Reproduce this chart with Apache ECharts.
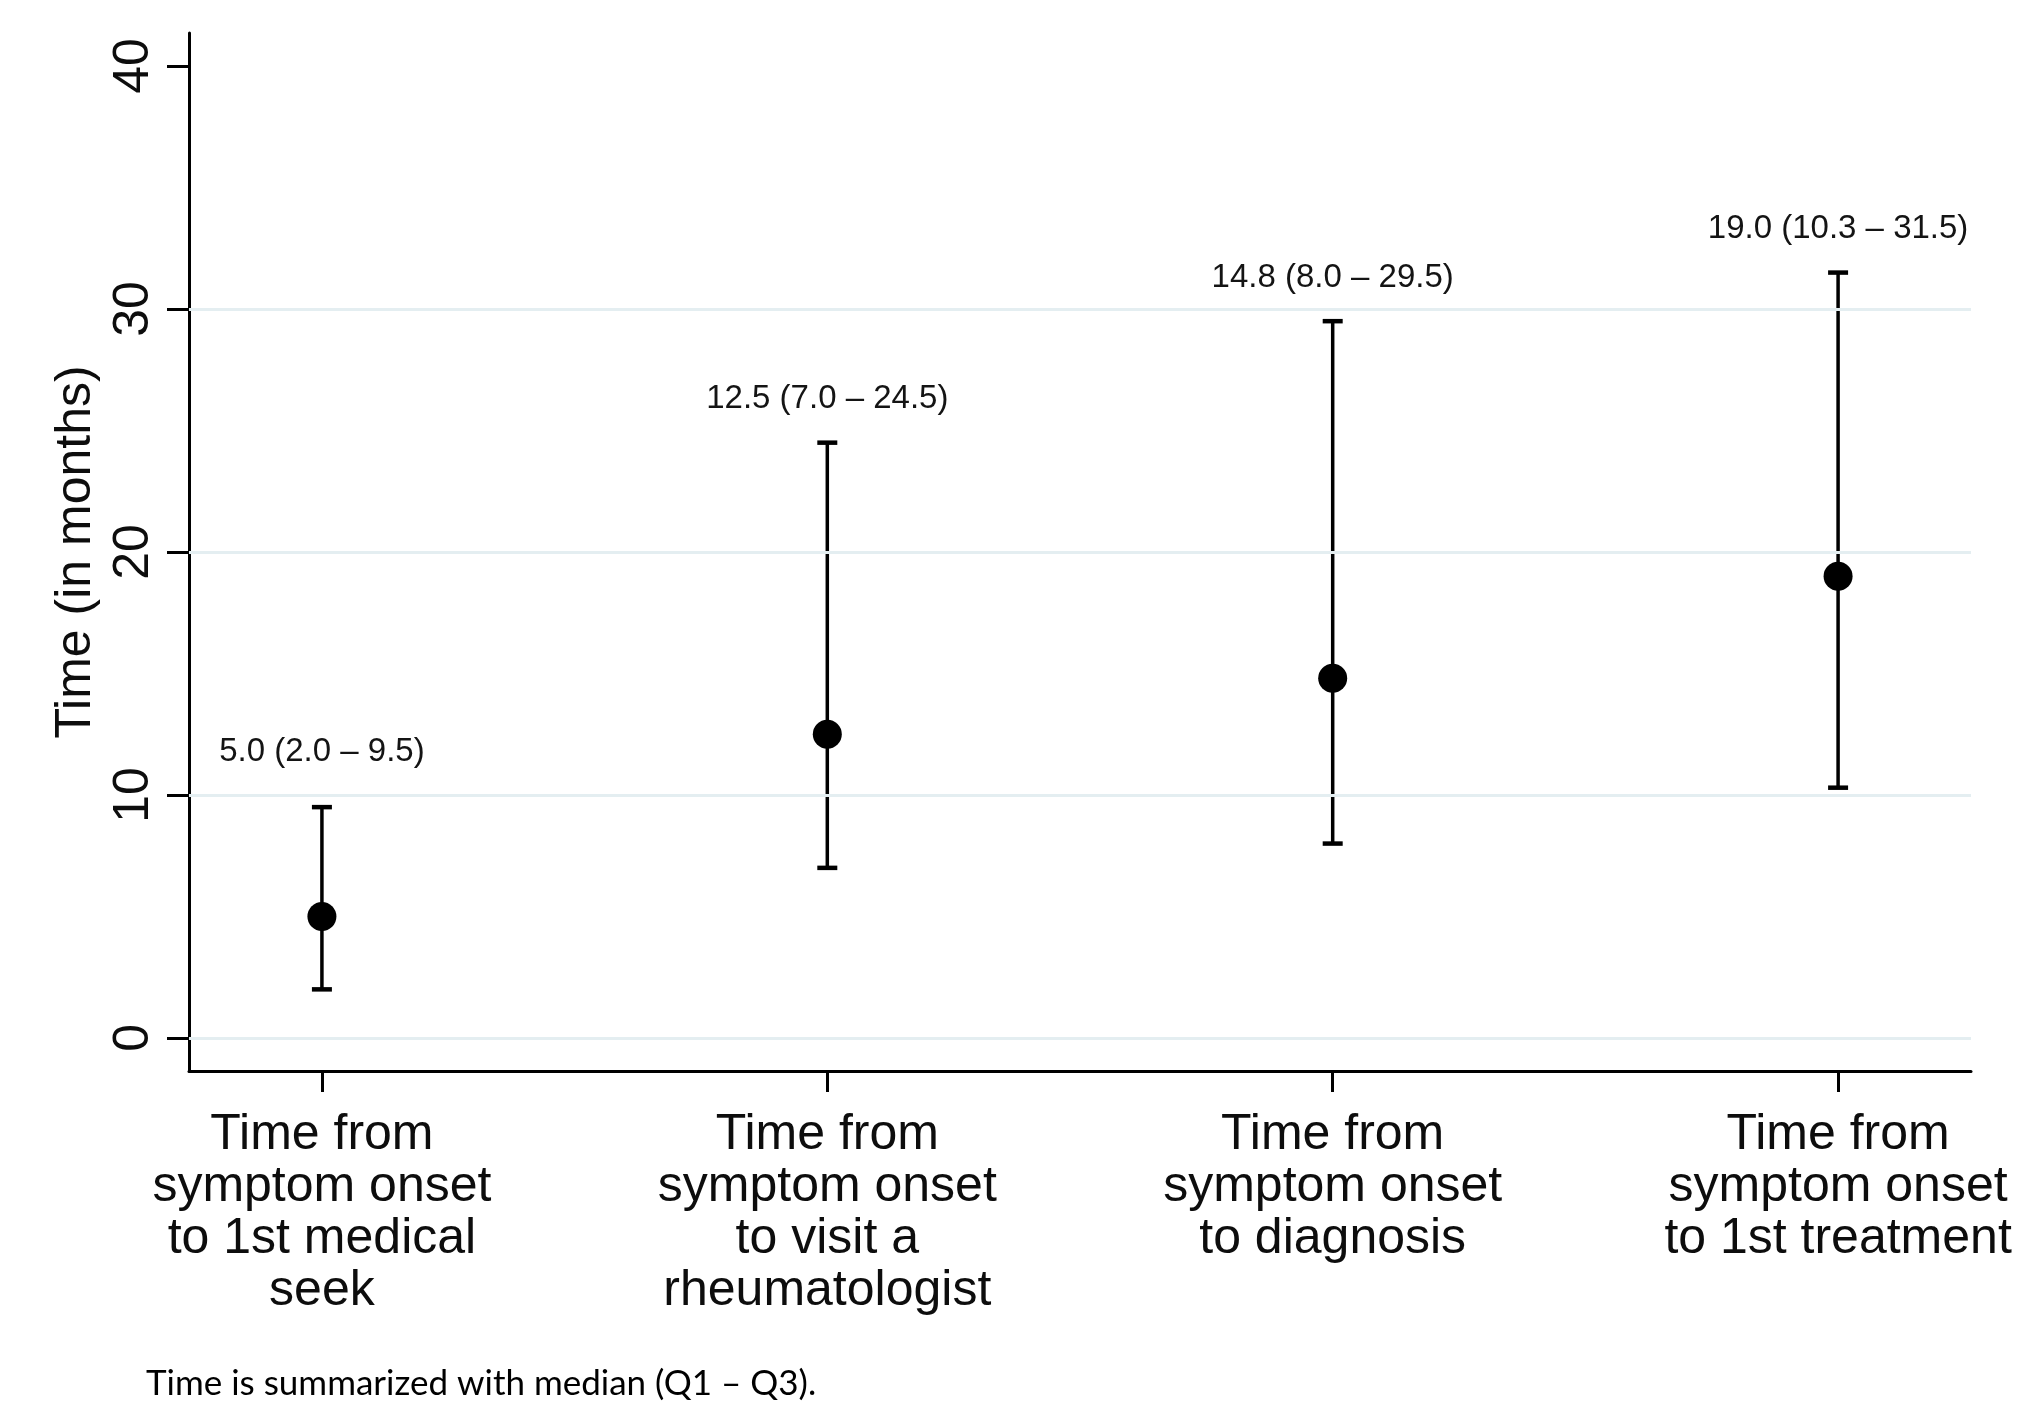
<!DOCTYPE html>
<html>
<head>
<meta charset="utf-8">
<title>Time from symptom onset</title>
<script src="https://cdn.jsdelivr.net/npm/echarts@6/dist/echarts.min.js"></script>
<style>
  html, body { margin: 0; padding: 0; background: #ffffff; }
  #chart { width: 2018px; height: 1403px; }
</style>
</head>
<body>
<div id="chart"></div>
<script>
// Time intervals, summarized as median with interquartile range (months)
const categories = [
  'Time from\nsymptom onset\nto 1st medical\nseek',
  'Time from\nsymptom onset\nto visit a\nrheumatologist',
  'Time from\nsymptom onset\nto diagnosis',
  'Time from\nsymptom onset\nto 1st treatment'
];
const medians = [5.0, 12.5, 14.8, 19.0];
const q1 = [2.0, 7.0, 8.0, 10.3];
const q3 = [9.5, 24.5, 29.5, 31.5];
const yTicks = [0, 10, 20, 30, 40];
const gridValues = [0, 10, 20, 30];

// extra upward shift of the first summary label, in pixels
const labelLift = [12, 0, 0, 0];

const xPos = categories.map((_, i) => i + 1);
const pointData = xPos.map((x, i) => [x, medians[i]]);
const barData = xPos.map((x, i) => [x, q1[i], q3[i], medians[i]]);

const fmt = v => v.toFixed(1);

const chart = echarts.init(document.getElementById('chart'), null, { renderer: 'canvas' });

const option = {
  backgroundColor: '#ffffff',
  animation: false,
  grid: { left: 189, right: 47, top: 33, bottom: 332, containLabel: false },
  xAxis: {
    type: 'value',
    min: 0.737,
    max: 4.263,
    splitLine: { show: false },
    axisLine: { show: true, onZero: false, lineStyle: { color: '#000', width: 3 } },
    axisTick: { show: true, customValues: xPos, length: 21, lineStyle: { color: '#000', width: 3 } },
    axisLabel: {
      customValues: xPos,
      formatter: v => categories[Math.round(v) - 1] || '',
      fontFamily: 'Liberation Sans, Arial, sans-serif',
      fontSize: 50,
      lineHeight: 52,
      color: '#0d0d0d',
      align: 'center',
      margin: 38
    }
  },
  yAxis: {
    type: 'value',
    min: -1.36,
    max: 41.36,
    name: 'Time (in months)',
    nameLocation: 'middle',
    nameRotate: 90,
    nameGap: 82,
    nameTextStyle: { fontFamily: 'Liberation Sans, Arial, sans-serif', fontSize: 50, color: '#0d0d0d' },
    splitLine: { show: false },
    axisLine: { show: true, onZero: false, lineStyle: { color: '#000', width: 3 } },
    axisTick: { show: true, customValues: yTicks, length: 22, lineStyle: { color: '#000', width: 3 } },
    axisLabel: {
      customValues: yTicks,
      rotate: 90,
      fontFamily: 'Liberation Sans, Arial, sans-serif',
      fontSize: 50,
      color: '#0d0d0d',
      margin: 30
    }
  },
  series: [
    {
      // horizontal reference lines
      type: 'line',
      data: [],
      z: 1,
      silent: true,
      markLine: {
        silent: true,
        symbol: ['none', 'none'],
        label: { show: false },
        lineStyle: { color: '#e4eef1', width: 3, type: 'solid' },
        data: gridValues.map(v => ({ yAxis: v }))
      }
    },
    {
      // interquartile whiskers with summary labels
      type: 'custom',
      z: 3,
      data: barData,
      renderItem: (params, api) => {
        const x = api.value(0);
        const lo = api.value(1);
        const hi = api.value(2);
        const med = api.value(3);
        const pLo = api.coord([x, lo]);
        const pHi = api.coord([x, hi]);
        const cap = 10;
        const idx = params.dataIndex;
        return {
          type: 'group',
          children: [
            { type: 'line', shape: { x1: pLo[0], y1: pLo[1], x2: pHi[0], y2: pHi[1] }, style: { stroke: '#000', lineWidth: 3.5 } },
            { type: 'line', shape: { x1: pLo[0] - cap, y1: pLo[1], x2: pLo[0] + cap, y2: pLo[1] }, style: { stroke: '#000', lineWidth: 4.5 } },
            { type: 'line', shape: { x1: pHi[0] - cap, y1: pHi[1], x2: pHi[0] + cap, y2: pHi[1] }, style: { stroke: '#000', lineWidth: 4.5 } },
            {
              type: 'text',
              x: pHi[0],
              y: pHi[1] - 27 - labelLift[idx],
              style: {
                text: fmt(med) + ' (' + fmt(lo) + ' \u2013 ' + fmt(hi) + ')',
                font: '33px "Liberation Sans", Arial, sans-serif',
                fill: '#141414',
                align: 'center',
                verticalAlign: 'bottom',
                lineHeight: 33
              }
            }
          ]
        };
      }
    },
    {
      // medians
      type: 'scatter',
      z: 4,
      symbol: 'circle',
      symbolSize: 29,
      itemStyle: { color: '#000', opacity: 1 },
      data: pointData
    }
  ],
  graphic: [
    {
      type: 'text',
      left: 146,
      top: 1366,
      style: {
        text: 'Time is summarized with median (Q1 \u2013 Q3).',
        font: '35px Lato, "Open Sans", sans-serif',
        fill: '#000'
      }
    }
  ]
};

chart.setOption(option);
</script>
</body>
</html>
